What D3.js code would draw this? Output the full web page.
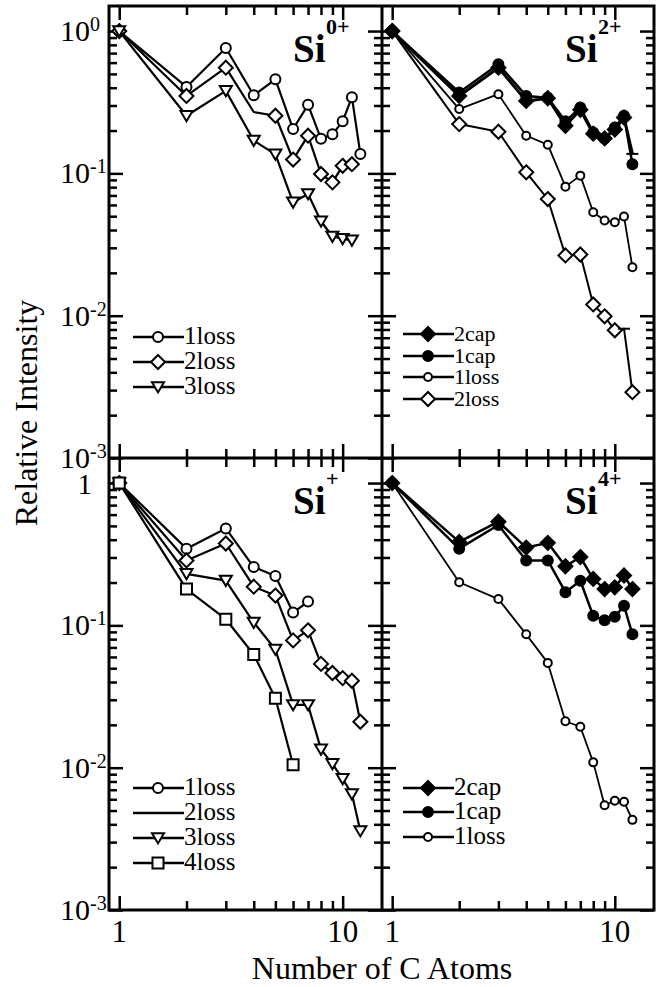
<!DOCTYPE html>
<html lang="en">
<head>
<meta charset="utf-8">
<title>Relative Intensity vs Number of C Atoms</title>
<script src="https://cdn.jsdelivr.net/npm/d3@7"></script>
<style>
  body { margin: 0; background: #fff; }
  .tick line { stroke: #000; stroke-width: 2.5px; }
</style>
</head>
<body>
<div id="chart"></div>
<script>
// ---- data ----
var nC = [1, 2, 3, 4, 5, 6, 7, 8, 9, 10, 11, 12];

// Si0+
var si0_1loss = [1, 0.405, 0.76, 0.354, 0.458, 0.205, 0.303, 0.175, 0.188, 0.232, 0.343, 0.137];
var si0_2loss = [1, 0.35, 0.553, 0.27, 0.254, 0.125, 0.184, 0.099, 0.0865, 0.113, 0.116];
var si0_3loss = [1, 0.254, 0.38, 0.17, 0.136, 0.0626, 0.0717, 0.0461, 0.036, 0.0347, 0.0338];

// Si2+
var si2_2cap  = [1, 0.35, 0.553, 0.323, 0.337, 0.216, 0.28, 0.19, 0.176, 0.203, 0.247, 0.137];
var si2_1cap  = [1, 0.37, 0.585, 0.35, 0.34, 0.232, 0.29, 0.194, 0.176, 0.21, 0.254, 0.116];
var si2_1loss = [1, 0.283, 0.36, 0.184, 0.159, 0.0807, 0.0964, 0.0533, 0.0466, 0.0454, 0.0497, 0.0219];
var si2_2loss = [1, 0.222, 0.196, 0.1017, 0.066, 0.0265, 0.0269, 0.012, 0.0099, 0.0079, 0.0081, 0.0029];

// Si+
var sip_1loss = [1, 0.346, 0.48, 0.257, 0.222, 0.123, 0.147];
var sip_2loss = [1, 0.286, 0.376, 0.187, 0.162, 0.0784, 0.0923, 0.0536, 0.0463, 0.0426, 0.0408, 0.021];
var sip_3loss = [1, 0.23, 0.2065, 0.1047, 0.0677, 0.0276, 0.0276, 0.01346, 0.01064, 0.00834, 0.00653, 0.00359];
var sip_4loss = [1, 0.18, 0.1105, 0.0624, 0.0308, 0.0105];

// Si4+
var si4_2cap  = [1, 0.386, 0.535, 0.352, 0.38, 0.26, 0.302, 0.212, 0.18, 0.185, 0.224, 0.18];
var si4_1cap  = [1, 0.346, 0.507, 0.286, 0.286, 0.171, 0.206, 0.1167, 0.1086, 0.1148, 0.1374, 0.0865];
var si4_1loss = [1, 0.201, 0.153, 0.0865, 0.0545, 0.0212, 0.0194, 0.0109, 0.00545, 0.00586, 0.00576, 0.0043];

var xDomain = [0.9, 15];
var yDomain = [1e-3, 1.5];

// ---- layout ----
var width = 663, height = 987;
var L = 109, M = 382, R = 654, T = 6, C = 458, B = 910;

var svg = d3.select("#chart").append("svg")
    .attr("width", width)
    .attr("height", height)
    .attr("font-family", "'Liberation Serif', 'Times New Roman', Times, 'DejaVu Serif', serif");

// marker shapes
function markerPath(type, s) {
  switch (type) {
    case "circle": return d3.symbol(d3.symbolCircle, Math.PI * s * s)();
    case "diamond": return "M0," + (-s) + "L" + s + ",0L0," + s + "L" + (-s) + ",0Z";
    case "tri": return "M" + (-s) + "," + (-s * 0.8) + "L" + s + "," + (-s * 0.8) + "L0," + (s * 0.9) + "Z";
    case "square": return "M" + (-s) + "," + (-s) + "H" + s + "V" + s + "H" + (-s) + "Z";
    case "dash": return "M" + (-s) + ",0H" + s;
  }
  return null;
}

var panels = [
  { x0: L, x1: M, y0: T, y1: C, label: "Si", sup: "0+", yLabels: true, topLabel: "10",
    legendX: 133, legendY: [337, 362, 387], legendSize: 25,
    series: [
      { name: "1loss", v: si0_1loss, m: "circle", s: 5, fill: "#fff", w: 2.2 },
      { name: "2loss", v: si0_2loss, m: "diamond", s: 7, fill: "#fff", w: 2.2, skip: [4] },
      { name: "3loss", v: si0_3loss, m: "tri", s: 6, fill: "#fff", w: 2.2 }
    ] },
  { x0: M, x1: R, y0: T, y1: C, label: "Si", sup: "2+", yLabels: false,
    legendX: 403, legendY: [334, 356, 377, 399], legendSize: 22,
    series: [
      { name: "2loss", v: si2_2loss, m: "diamond", s: 7, fill: "#fff", w: 2, dash: [11] },
      { name: "1loss", v: si2_1loss, m: "circle", s: 4, fill: "#fff", w: 1.8 },
      { name: "2cap", v: si2_2cap, m: "diamond", s: 7, fill: "#000", w: 3, dash: [12] },
      { name: "1cap", v: si2_1cap, m: "circle", s: 5, fill: "#000", w: 2.5 }
    ],
    legendOrder: ["2cap", "1cap", "1loss", "2loss"] },
  { x0: L, x1: M, y0: C, y1: B, label: "Si", sup: "+", yLabels: true, topLabel: "1",
    legendX: 133, legendY: [788, 813, 838, 863], legendSize: 25,
    series: [
      { name: "1loss", v: sip_1loss, m: "circle", s: 5, fill: "#fff", w: 2.2 },
      { name: "2loss", v: sip_2loss, m: "diamond", s: 7, fill: "#fff", w: 2.2, legendNoMarker: true },
      { name: "3loss", v: sip_3loss, m: "tri", s: 6, fill: "#fff", w: 2.2 },
      { name: "4loss", v: sip_4loss, m: "square", s: 5.5, fill: "#fff", w: 2.2 }
    ] },
  { x0: M, x1: R, y0: C, y1: B, label: "Si", sup: "4+", yLabels: false,
    legendX: 403, legendY: [788, 812, 837], legendSize: 25,
    series: [
      { name: "1loss", v: si4_1loss, m: "circle", s: 4, fill: "#fff", w: 1.8 },
      { name: "1cap", v: si4_1cap, m: "circle", s: 5, fill: "#000", w: 2.5 },
      { name: "2cap", v: si4_2cap, m: "diamond", s: 7, fill: "#000", w: 2.5 }
    ],
    legendOrder: ["2cap", "1cap", "1loss"] }
];

var xMajor = [1, 10], xMinor = [2, 3, 4, 5, 6, 7, 8, 9];
var yMajor = [1e-3, 1e-2, 1e-1, 1];
var yMinor = [];
[1e-3, 1e-2, 1e-1].forEach(function(d) {
  for (var k = 2; k <= 9; k++) yMinor.push(d * k);
});

panels.forEach(function(p) {
  var x = d3.scaleLog().domain(xDomain).range([p.x0, p.x1]);
  var y = d3.scaleLog().domain(yDomain).range([p.y1, p.y0]);
  var g = svg.append("g");

  // ticks on all four sides, pointing inward
  function ticks(axis, vals, len, tr) {
    var a = g.append("g").attr("transform", tr)
      .call(axis.tickValues(vals).tickSize(-len).tickFormat(""));
    a.select(".domain").remove();
  }
  ticks(d3.axisLeft(y), yMajor, 14, "translate(" + p.x0 + ",0)");
  ticks(d3.axisLeft(y), yMinor, 8, "translate(" + p.x0 + ",0)");
  ticks(d3.axisRight(y), yMajor, 14, "translate(" + p.x1 + ",0)");
  ticks(d3.axisRight(y), yMinor, 8, "translate(" + p.x1 + ",0)");
  ticks(d3.axisTop(x), xMajor, 14, "translate(0," + p.y0 + ")");
  ticks(d3.axisTop(x), xMinor, 9, "translate(0," + p.y0 + ")");
  ticks(d3.axisBottom(x), xMajor, 14, "translate(0," + p.y1 + ")");
  ticks(d3.axisBottom(x), xMinor, 9, "translate(0," + p.y1 + ")");

  // series
  var line = d3.line()
    .x(function(d) { return x(d[0]); })
    .y(function(d) { return y(d[1]); });

  p.series.forEach(function(s) {
    var pts = s.v.map(function(v, i) { return [nC[i], v]; });
    g.append("path")
      .datum(pts)
      .attr("d", line)
      .attr("fill", "none")
      .attr("stroke", "#000")
      .attr("stroke-width", s.w)
      .attr("stroke-linejoin", "round");

    g.selectAll(null)
      .data(pts.filter(function(d) { return !(s.skip && s.skip.indexOf(d[0]) >= 0); }))
      .enter().append("path")
      .attr("transform", function(d) { return "translate(" + x(d[0]) + "," + y(d[1]) + ")"; })
      .attr("d", function(d) {
        return (s.dash && s.dash.indexOf(d[0]) >= 0) ? markerPath("dash", 6) : markerPath(s.m, s.s);
      })
      .attr("fill", function(d) { return (s.dash && s.dash.indexOf(d[0]) >= 0) ? "none" : s.fill; })
      .attr("stroke", "#000")
      .attr("stroke-width", 2);
  });

  // legend
  var order = p.legendOrder || p.series.map(function(s) { return s.name; });
  order.forEach(function(name, i) {
    var s = p.series.filter(function(d) { return d.name === name; })[0];
    var ly = p.legendY[i];
    g.append("line")
      .attr("x1", p.legendX).attr("x2", p.legendX + 51)
      .attr("y1", ly).attr("y2", ly)
      .attr("stroke", "#000").attr("stroke-width", 2.5);
    if (!s.legendNoMarker) {
      g.append("path")
        .attr("transform", "translate(" + (p.legendX + 25) + "," + ly + ")")
        .attr("d", markerPath(s.m, s.s))
        .attr("fill", s.fill).attr("stroke", "#000").attr("stroke-width", 2);
    }
    g.append("text")
      .attr("x", p.legendX + 51).attr("y", ly + 7)
      .attr("font-size", p.legendSize)
      .text(s.name);
  });

  // panel label
  var lx = p.x1 - 89, lby = p.y0 + 56;
  g.append("text")
    .attr("x", lx).attr("y", lby)
    .attr("font-size", 39).attr("font-weight", "bold")
    .text(p.label);
  g.append("text")
    .attr("x", lx + 33).attr("y", lby - 28)
    .attr("font-size", 22).attr("font-weight", "bold")
    .text(p.sup);

  // y tick labels
  if (p.yLabels) {
    var exps = { 1: "0", 0.1: "-1", 0.01: "-2", 0.001: "-3" };
    yMajor.forEach(function(v) {
      var ty = y(v);
      if (v === 1 && p.topLabel === "1") {
        g.append("text").attr("x", 92).attr("y", ty + 11)
          .attr("text-anchor", "end").attr("font-size", 29).text("1");
        return;
      }
      g.append("text").attr("x", 90).attr("y", ty + 10)
        .attr("text-anchor", "end").attr("font-size", 30).text("10");
      g.append("text").attr("x", 90).attr("y", ty)
        .attr("font-size", 20).text(exps[v]);
    });
  }

  // x tick labels on bottom panels
  if (p.y1 === B) {
    xMajor.forEach(function(v) {
      g.append("text").attr("x", x(v)).attr("y", 942)
        .attr("text-anchor", "middle").attr("font-size", 31)
        .text(v);
    });
  }
});

// frame and dividers
svg.append("rect")
  .attr("x", L).attr("y", T)
  .attr("width", R - L).attr("height", B - T)
  .attr("fill", "none").attr("stroke", "#000").attr("stroke-width", 3);
svg.append("line").attr("x1", M).attr("x2", M).attr("y1", T).attr("y2", B)
  .attr("stroke", "#000").attr("stroke-width", 3);
svg.append("line").attr("x1", L).attr("x2", R).attr("y1", C).attr("y2", C)
  .attr("stroke", "#000").attr("stroke-width", 3);

// axis titles
svg.append("text")
  .attr("x", 382).attr("y", 979)
  .attr("text-anchor", "middle").attr("font-size", 32)
  .text("Number of C Atoms");
svg.append("text")
  .attr("transform", "translate(37,413) rotate(-90)")
  .attr("text-anchor", "middle").attr("font-size", 32)
  .text("Relative Intensity");
</script>
</body>
</html>
